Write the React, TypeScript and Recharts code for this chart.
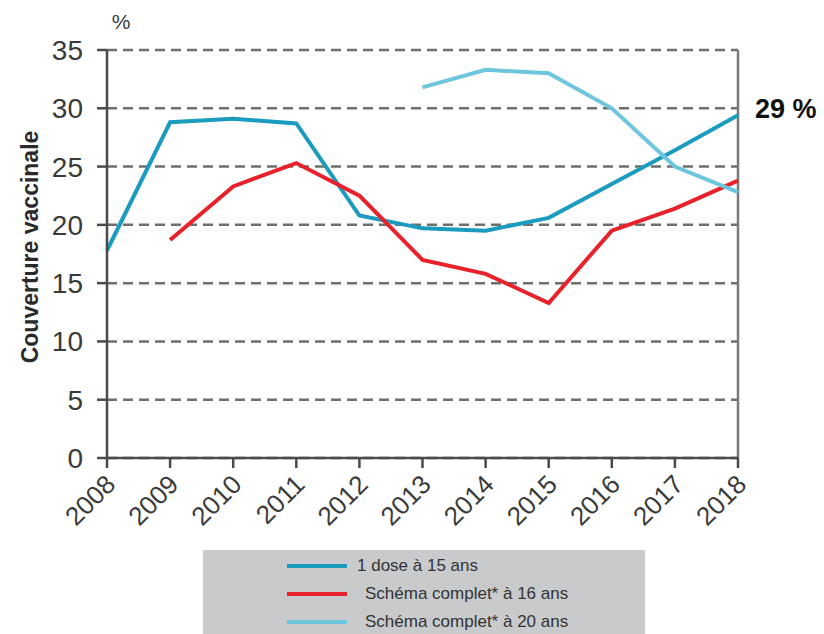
import { LineChart, Line, XAxis, YAxis, CartesianGrid, ReferenceLine, Legend } from "recharts";

const years = ["2008", "2009", "2010", "2011", "2012", "2013", "2014", "2015", "2016", "2017", "2018"];
const dose15 = [17.8, 28.8, 29.1, 28.7, 20.8, 19.7, 19.5, 20.6, 23.5, 26.4, 29.4];
const complet16 = [null, 18.7, 23.3, 25.3, 22.5, 17.0, 15.8, 13.3, 19.5, 21.4, 23.8];
const complet20 = [null, null, null, null, null, 31.8, 33.3, 33.0, 30.0, 25.0, 22.8];
const yTicks = [0, 5, 10, 15, 20, 25, 30, 35];

const series = [
  { key: "dose15", name: "1 dose à 15 ans", color: "#1b9cbf", indent: 0 },
  { key: "complet16", name: "Schéma complet* à 16 ans", color: "#e8212b", indent: 8 },
  { key: "complet20", name: "Schéma complet*  à 20 ans", color: "#6ec6de", indent: 8 },
];

const data = years.map((y, i) => ({
  year: y,
  dose15: dose15[i],
  complet16: complet16[i],
  complet20: complet20[i],
}));

const FONT = "'Liberation Sans Narrow', 'Liberation Sans', Arial, sans-serif";

const XTick = ({ x, y, payload }: any) => (
  <text
    x={x + 10}
    y={y + 16}
    transform={`rotate(-45, ${x + 10}, ${y + 16})`}
    textAnchor="end"
    fontFamily={FONT}
    fontSize={26}
    fill="#3a3a3a"
  >
    {payload.value}
  </text>
);

const LegendBox = () => (
  <div
    style={{
      position: "absolute",
      left: 203,
      top: 550,
      width: 442,
      height: 84,
      background: "#c9cacc",
      fontFamily: FONT,
      fontSize: 17,
      color: "#333",
    }}
  >
    {series.map((s, i) => (
      <div key={s.key} style={{ position: "absolute", left: 84, top: 4 + i * 28, height: 24, display: "flex", alignItems: "center" }}>
        <div style={{ width: 60, height: 4, background: s.color }} />
        <span style={{ marginLeft: 10 + s.indent }}>{s.name}</span>
      </div>
    ))}
  </div>
);

export default function App() {
  return (
    <div style={{ position: "absolute", left: 0, top: 0, width: 824, height: 634, background: "#fff" }}>
      <LineChart width={824} height={634} data={data} margin={{ top: 50, right: 86, left: 47, bottom: 116 }}>
        <CartesianGrid vertical={false} stroke="#6e6e6e" strokeWidth={2.5} strokeDasharray="10 6" />
        <XAxis
          dataKey="year"
          tick={<XTick />}
          tickSize={10}
          height={60}
          interval={0}
          axisLine={{ stroke: "#4a4a4a", strokeWidth: 2.5 }}
          tickLine={{ stroke: "#4a4a4a", strokeWidth: 2.5 }}
        />
        <YAxis
          domain={[0, 35]}
          ticks={yTicks}
          width={60}
          tickSize={10}
          tickMargin={14}
          interval={0}
          axisLine={{ stroke: "#4a4a4a", strokeWidth: 2.5 }}
          tickLine={{ stroke: "#4a4a4a", strokeWidth: 2.5 }}
          tick={{ fontFamily: FONT, fontSize: 28, fill: "#3a3a3a" }}
        />
        <ReferenceLine x="2018" stroke="#7a7a7a" strokeWidth={2.5} />
        {series.map((s) => (
          <Line
            key={s.key}
            dataKey={s.key}
            name={s.name}
            stroke={s.color}
            strokeWidth={4}
            dot={false}
            activeDot={false}
            type="linear"
            isAnimationActive={false}
          />
        ))}
        <Legend content={() => null} />
        <text x={121} y={29} fontFamily={FONT} fontSize={21} fill="#3a3a3a" textAnchor="middle">%</text>
        <text
          x={32}
          y={247}
          transform="rotate(-90, 32, 247)"
          textAnchor="middle"
          dominantBaseline="middle"
          fontFamily={FONT}
          fontWeight="bold"
          fontSize={23}
          fill="#2a2a2a"
        >
          Couverture vaccinale
        </text>
        <text x={755} y={118} fontFamily="'Liberation Sans', Arial, sans-serif" fontWeight="bold" fontSize={27} fill="#111">
          29 %
        </text>
      </LineChart>
      <LegendBox />
    </div>
  );
}
